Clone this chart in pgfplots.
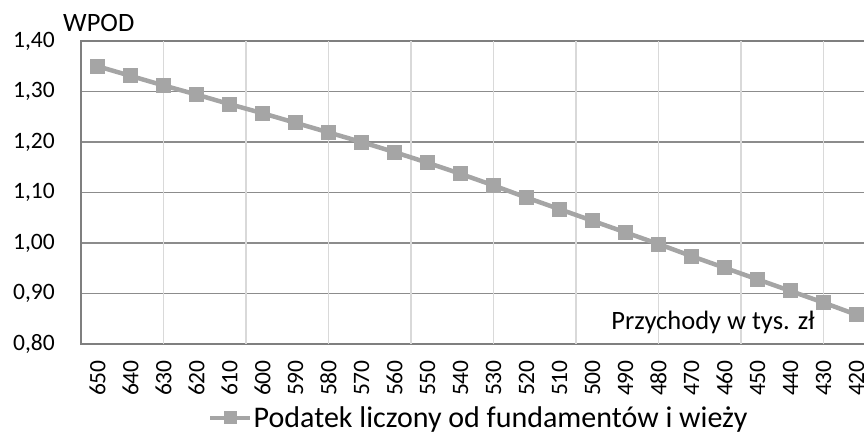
\documentclass[border=0pt]{standalone}
\usepackage{pgfplots}
\pgfplotsset{compat=1.18}
\usepackage{fontspec}
\setmainfont{Carlito}
\definecolor{ser}{HTML}{A5A5A5}
\definecolor{hgrid}{HTML}{8C8C8C}
\definecolor{vgrid}{HTML}{D9D9D9}
\definecolor{axln}{HTML}{7F7F7F}
\pgfplotstableread{
x y
650 1.350
640 1.331
630 1.312
620 1.294
610 1.275
600 1.257
590 1.238
580 1.219
570 1.200
560 1.180
550 1.159
540 1.137
530 1.114
520 1.090
510 1.067
500 1.044
490 1.021
480 0.998
470 0.974
460 0.951
450 0.928
440 0.905
430 0.882
420 0.858
}\wpod
\begin{document}
\begin{tikzpicture}
\useasboundingbox (-81pt,-87pt) rectangle (783pt,344pt);
\begin{axis}[
  at={(0pt,0pt)}, anchor=south west,
  scale only axis, width=792pt, height=303pt,
  xmin=415, xmax=655, x dir=reverse,
  ymin=0.8, ymax=1.4,
  xtick={420,430,440,450,460,470,480,490,500,510,520,530,540,550,560,570,580,590,600,610,620,630,640,650},
  ytick={0.8,0.9,1.0,1.1,1.2,1.3,1.4},
  extra x ticks={430,455,480,505,530,555,580,605,630},
  extra x tick labels={},
  extra x tick style={xmajorgrids=true, major grid style={vgrid, line width=1.3pt}},
  ymajorgrids,
  major grid style={hgrid, line width=1.1pt},
  axis line style={axln, line width=1.5pt},
  major tick length=0pt,
  /pgf/number format/assume math mode=true,
  xticklabel style={rotate=90, anchor=east, inner sep=0pt, xshift=-16pt, font=\fontsize{23.5}{28}\selectfont, /pgf/number format/1000 sep={}},
  yticklabel style={anchor=east, inner sep=0pt, xshift=-26pt, font=\fontsize{23.5}{28}\selectfont, /pgf/number format/.cd, fixed, fixed zerofill, precision=2, use comma},
  legend style={at={(axis description cs:0.1604,-0.2442)}, anchor=west, draw=none, fill=none, inner sep=0pt, font=\fontsize{30}{36}\selectfont, nodes={inner sep=1pt}},
  legend image code/.code={\draw[#1, mark=none] (0pt,0pt) -- (40pt,0pt); \draw[#1, mark size=6pt, mark repeat=2, mark phase=2] plot coordinates {(0pt,0pt) (20pt,0pt) (40pt,0pt)};},
]
\addplot[ser, line width=4.5pt, mark=square*, mark size=7pt, mark options={fill=ser, draw=ser, line width=0pt}] table[x=x, y=y] {\wpod};
\addlegendentry{Podatek liczony od fundamentów i wieży}
\end{axis}
\node[anchor=base east, inner sep=0pt, font=\fontsize{26.5}{32}\selectfont] at (734pt,15pt) {Przychody w tys. zł};
\node[anchor=base west, inner sep=0pt, font=\fontsize{26.5}{32}\selectfont] at (-18pt,312pt) {WPOD};
\end{tikzpicture}
\end{document}
